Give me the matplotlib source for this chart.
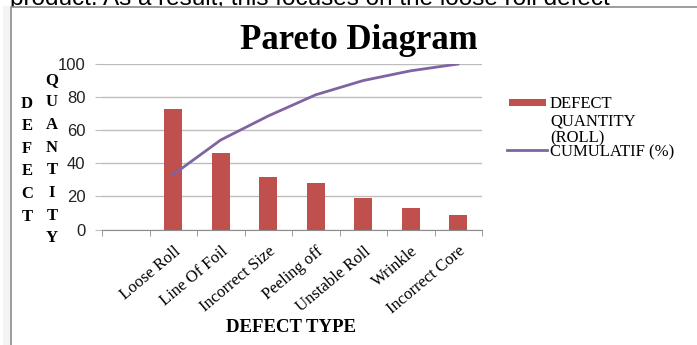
import numpy as np
import matplotlib.pyplot as plt
from matplotlib.patches import Rectangle
from matplotlib.lines import Line2D

categories = ["Loose Roll", "Line Of Foil", "Incorrect Size", "Peeling off",
              "Unstable Roll", "Wrinkle", "Incorrect Core"]
quantity = [73, 46, 32, 28, 19, 13, 9]
cumulative = [33.2, 54.1, 68.6, 81.4, 90.0, 95.9, 100.0]
y_ticks = [0, 20, 40, 60, 80, 100]

bar_red = "#C0504D"
line_purple = "#8064A2"
W, H = 697, 345


def fx(px):
    return px / W


def fy(py):
    return 1 - py / H


fig = plt.figure(figsize=(W / 100, H / 100), dpi=100)
fig.patch.set_facecolor("white")

# bit of document text above the chart box
fig.text(fx(10), fy(5), "product. As a result, this focuses on the loose roll defect",
         fontsize=17.5, family="Liberation Sans", va="baseline", zorder=0.2)
fig.patches.append(Rectangle((fx(3), 0), fx(7), fy(6), transform=fig.transFigure,
                             facecolor="#F3F4F6", edgecolor="none", zorder=0.3))
fig.patches.append(Rectangle((fx(10.5), -0.1), 1.2, fy(6.5) + 0.1, transform=fig.transFigure,
                             facecolor="white", edgecolor="#8C8C8C", lw=1.2, zorder=0.5))

ax = fig.add_axes([fx(102), fy(229.5), fx(380), (229.5 - 64) / H])
ax.set_zorder(1)
ax.patch.set_alpha(0)

x = np.arange(1, len(categories) + 1)
ax.bar(x, quantity, width=0.37, color=bar_red, zorder=2)
ax.plot(x, cumulative, color=line_purple, lw=2.0, solid_capstyle="round", zorder=3)

ax.set_xlim(-0.5, len(categories) + 0.5)
ax.set_ylim(0, 100)
ax.set_yticks(y_ticks)
ax.yaxis.grid(True, color="#BDBDBD", lw=1.0)
ax.set_axisbelow(True)
for s in ["left", "top", "right"]:
    ax.spines[s].set_visible(False)
ax.spines["bottom"].set_color("#8C8C8C")
ax.tick_params(axis="y", length=5, color="#BDBDBD", pad=7, labelsize=12,
               labelcolor="#222222")
for lab in ax.get_yticklabels():
    lab.set_family("Liberation Sans")

ax.set_xticks(x)
ax.set_xticklabels(categories, rotation=40, ha="right", rotation_mode="anchor",
                   family="Liberation Serif", fontsize=12)
ax.set_xticks(np.arange(-0.5, len(categories) + 1), minor=True)
ax.tick_params(axis="x", which="major", length=0, pad=10)
ax.tick_params(axis="x", which="minor", length=4, color="#8C8C8C")

fig.text(fx(359), fy(49), "Pareto Diagram", family="Liberation Serif", weight="bold",
         fontsize=25, ha="center", va="baseline")
fig.text(fx(291), fy(327), "DEFECT TYPE", family="Liberation Serif", weight="bold",
         fontsize=13.5, ha="center", va="center")
fig.text(fx(27), fy(160), "\n".join("DEFECT"), family="Liberation Serif", weight="bold",
         fontsize=12, ha="center", va="center", linespacing=1.55)
fig.text(fx(52), fy(159), "\n".join("QUANTITY"), family="Liberation Serif", weight="bold",
         fontsize=12, ha="center", va="center", linespacing=1.55)

# legend
fig.patches.append(Rectangle((fx(509), fy(106)), fx(37), 7 / H, transform=fig.transFigure,
                             facecolor=bar_red, edgecolor="none", zorder=2))
fig.lines.append(Line2D([fx(507), fx(547)], [fy(150), fy(150)], transform=fig.transFigure,
                        color=line_purple, lw=2.0))
fig.text(fx(550), fy(96), "DEFECT\nQUANTITY\n(ROLL)", family="Liberation Serif",
         fontsize=12, va="top", ha="left", linespacing=1.1)
fig.text(fx(550), fy(156), "CUMULATIF (%)", family="Liberation Serif",
         fontsize=12, va="baseline", ha="left")

fig.savefig("out.png", dpi=100)
